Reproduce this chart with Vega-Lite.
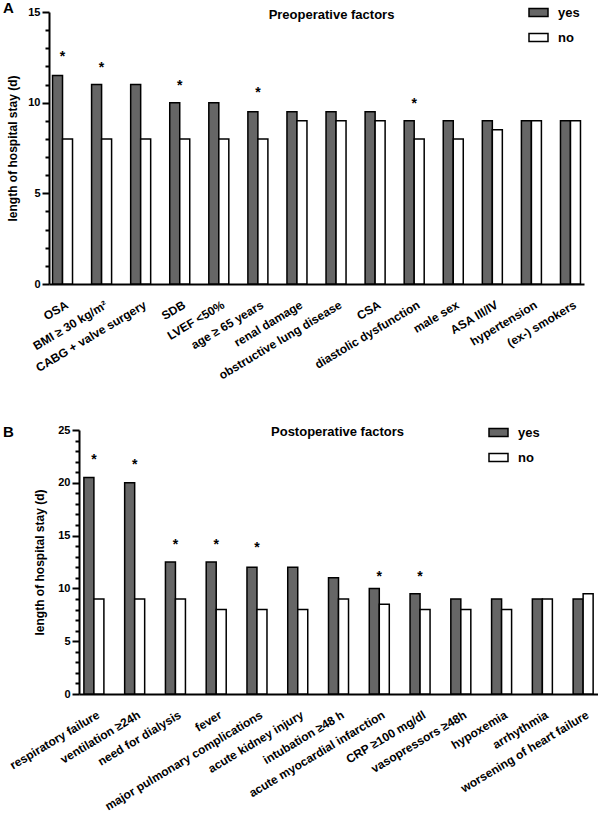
{
  "$schema": "https://vega.github.io/schema/vega-lite/v6.json",
  "padding": {"left": 3, "top": 1, "right": 0, "bottom": 0},
  "config": {
    "font": "Liberation Sans",
    "view": {"stroke": null},
    "axis": {
      "domainColor": "black", "domainWidth": 2, "tickColor": "black", "tickWidth": 2,
      "labelColor": "black", "labelFontSize": 11, "labelFontWeight": "bold", "labelFont": "Liberation Sans",
      "titleColor": "black", "titleFontSize": 12, "titleFontWeight": "bold", "titleFont": "Liberation Sans",
      "grid": false
    },
    "legend": {
      "orient": "none", "title": null,
      "symbolType": "M-1,-0.42H1V0.42H-1Z", "symbolSize": 361,
      "symbolStrokeColor": "black", "symbolStrokeWidth": 1.5, "symbolOpacity": 1,
      "labelFontSize": 13, "labelFontWeight": "bold", "labelColor": "black", "labelFont": "Liberation Sans",
      "labelOffset": 9, "rowPadding": 7
    }
  },
  "spacing": 41,
  "resolve": {"scale": {"color": "independent"}, "legend": {"color": "independent"}},
  "vconcat": [
    {
      "width": 535, "height": 272,
      "title": {"text": "A", "anchor": "start", "frame": "group", "fontSize": 15, "fontWeight": "bold", "color": "black", "offset": -14, "dx": -46},
      "resolve": {"axis": {"x": "independent"}},
      "layer": [
        {
          "data": {"values": [
            {"factor": "OSA", "group": "yes", "days": 11.5}, {"factor": "OSA", "group": "no", "days": 8},
            {"factor": "BMI ≥ 30 kg/m²", "group": "yes", "days": 11}, {"factor": "BMI ≥ 30 kg/m²", "group": "no", "days": 8},
            {"factor": "CABG + valve surgery", "group": "yes", "days": 11}, {"factor": "CABG + valve surgery", "group": "no", "days": 8},
            {"factor": "SDB", "group": "yes", "days": 10}, {"factor": "SDB", "group": "no", "days": 8},
            {"factor": "LVEF <50%", "group": "yes", "days": 10}, {"factor": "LVEF <50%", "group": "no", "days": 8},
            {"factor": "age ≥ 65 years", "group": "yes", "days": 9.5}, {"factor": "age ≥ 65 years", "group": "no", "days": 8},
            {"factor": "renal damage", "group": "yes", "days": 9.5}, {"factor": "renal damage", "group": "no", "days": 9},
            {"factor": "obstructive lung disease", "group": "yes", "days": 9.5}, {"factor": "obstructive lung disease", "group": "no", "days": 9},
            {"factor": "CSA", "group": "yes", "days": 9.5}, {"factor": "CSA", "group": "no", "days": 9},
            {"factor": "diastolic dysfunction", "group": "yes", "days": 9}, {"factor": "diastolic dysfunction", "group": "no", "days": 8},
            {"factor": "male sex", "group": "yes", "days": 9}, {"factor": "male sex", "group": "no", "days": 8},
            {"factor": "ASA III/IV", "group": "yes", "days": 9}, {"factor": "ASA III/IV", "group": "no", "days": 8.5},
            {"factor": "hypertension", "group": "yes", "days": 9}, {"factor": "hypertension", "group": "no", "days": 9},
            {"factor": "(ex-) smokers", "group": "yes", "days": 9}, {"factor": "(ex-) smokers", "group": "no", "days": 9}
          ]},
          "mark": {"type": "bar", "stroke": "black", "strokeWidth": 1.5},
          "encoding": {
            "x": {"field": "factor", "type": "nominal",
              "scale": {"domain": ["OSA", "BMI ≥ 30 kg/m²", "CABG + valve surgery", "SDB", "LVEF <50%", "age ≥ 65 years", "renal damage", "obstructive lung disease", "CSA", "diastolic dysfunction", "male sex", "ASA III/IV", "hypertension", "(ex-) smokers"], "paddingInner": 0.488, "paddingOuter": 0.09},
              "axis": {"title": null, "orient": "bottom", "ticks": false, "labelAngle": -31, "labelAlign": "right", "labelBaseline": "top", "labelPadding": 15, "labelOffset": 2, "labelLimit": 300, "labelFontSize": 12}},
            "xOffset": {"field": "group", "type": "nominal", "scale": {"domain": ["yes", "no"], "paddingInner": 0, "paddingOuter": 0}},
            "y": {"field": "days", "type": "quantitative",
              "scale": {"domain": [0, 15], "nice": false},
              "axis": {"title": "length of hospital stay (d)", "titlePadding": 8,
                "values": [0,1,2,3,4,5,6,7,8,9,10,11,12,13,14,15],
                "labelExpr": "datum.value % 5 === 0 ? datum.label : ''", "labelOverlap": false,
                "tickSize": {"condition": {"test": "datum.value % 5 === 0", "value": 7}, "value": 4},
                "labelPadding": 2}},
            "color": {"field": "group", "type": "nominal",
              "scale": {"domain": ["yes", "no"], "range": ["#666666", "#ffffff"]},
              "legend": {"legendX": 479, "legendY": -10}}
          }
        },
        {
          "data": {"values": [
            {"factor": "OSA", "star": 12.7},
            {"factor": "BMI ≥ 30 kg/m²", "star": 12.1},
            {"factor": "SDB", "star": 11.1},
            {"factor": "age ≥ 65 years", "star": 10.7},
            {"factor": "diastolic dysfunction", "star": 10.1}
          ]},
          "mark": {"type": "text", "text": "*", "fontSize": 14, "fontWeight": "bold", "color": "black", "baseline": "alphabetic", "dy": 7},
          "encoding": {
            "x": {"field": "factor", "type": "nominal",
              "scale": {"domain": ["OSA", "BMI ≥ 30 kg/m²", "CABG + valve surgery", "SDB", "LVEF <50%", "age ≥ 65 years", "renal damage", "obstructive lung disease", "CSA", "diastolic dysfunction", "male sex", "ASA III/IV", "hypertension", "(ex-) smokers"]},
              "axis": {"orient": "top", "title": "Preoperative factors", "titleFontSize": 13, "labels": false, "ticks": false, "domain": false, "titleX": 282, "titleY": 2, "titleBaseline": "middle", "titleAlign": "center", "titleAnchor": null}},
            "y": {"field": "star", "type": "quantitative",
              "axis": {"title": "length of hospital stay (d)", "titlePadding": 8,
                "values": [0,1,2,3,4,5,6,7,8,9,10,11,12,13,14,15],
                "labelExpr": "datum.value % 5 === 0 ? datum.label : ''", "labelOverlap": false,
                "tickSize": {"condition": {"test": "datum.value % 5 === 0", "value": 7}, "value": 4},
                "labelPadding": 2}}
          }
        }
      ]
    },
    {
      "hconcat": [
        {"width": 30, "height": 10, "data": {"values": []}, "mark": "point"},
        {
          "width": 519, "height": 264,
          "title": {"text": "B", "anchor": "start", "frame": "group", "fontSize": 15, "fontWeight": "bold", "color": "black", "offset": -16, "dx": -76},
          "resolve": {"axis": {"x": "independent"}},
          "layer": [
            {
              "data": {"values": [
                {"factor": "respiratory failure", "group": "yes", "days": 20.5}, {"factor": "respiratory failure", "group": "no", "days": 9},
                {"factor": "ventilation ≥24h", "group": "yes", "days": 20}, {"factor": "ventilation ≥24h", "group": "no", "days": 9},
                {"factor": "need for dialysis", "group": "yes", "days": 12.5}, {"factor": "need for dialysis", "group": "no", "days": 9},
                {"factor": "fever", "group": "yes", "days": 12.5}, {"factor": "fever", "group": "no", "days": 8},
                {"factor": "major pulmonary complications", "group": "yes", "days": 12}, {"factor": "major pulmonary complications", "group": "no", "days": 8},
                {"factor": "acute kidney injury", "group": "yes", "days": 12}, {"factor": "acute kidney injury", "group": "no", "days": 8},
                {"factor": "intubation ≥48 h", "group": "yes", "days": 11}, {"factor": "intubation ≥48 h", "group": "no", "days": 9},
                {"factor": "acute myocardial infarction", "group": "yes", "days": 10}, {"factor": "acute myocardial infarction", "group": "no", "days": 8.5},
                {"factor": "CRP ≥100 mg/dl", "group": "yes", "days": 9.5}, {"factor": "CRP ≥100 mg/dl", "group": "no", "days": 8},
                {"factor": "vasopressors ≥48h", "group": "yes", "days": 9}, {"factor": "vasopressors ≥48h", "group": "no", "days": 8},
                {"factor": "hypoxemia", "group": "yes", "days": 9}, {"factor": "hypoxemia", "group": "no", "days": 8},
                {"factor": "arrhythmia", "group": "yes", "days": 9}, {"factor": "arrhythmia", "group": "no", "days": 9},
                {"factor": "worsening of heart failure", "group": "yes", "days": 9}, {"factor": "worsening of heart failure", "group": "no", "days": 9.5}
              ]},
              "mark": {"type": "bar", "stroke": "black", "strokeWidth": 1.5},
              "encoding": {
                "x": {"field": "factor", "type": "nominal",
                  "scale": {"domain": ["respiratory failure", "ventilation ≥24h", "need for dialysis", "fever", "major pulmonary complications", "acute kidney injury", "intubation ≥48 h", "acute myocardial infarction", "CRP ≥100 mg/dl", "vasopressors ≥48h", "hypoxemia", "arrhythmia", "worsening of heart failure"], "paddingInner": 0.51, "paddingOuter": 0.12},
                  "axis": {"title": null, "orient": "bottom", "ticks": false, "labelAngle": -31, "labelAlign": "right", "labelBaseline": "top", "labelPadding": 15, "labelOffset": 2, "labelLimit": 300, "labelFontSize": 12}},
                "xOffset": {"field": "group", "type": "nominal", "scale": {"domain": ["yes", "no"], "paddingInner": 0, "paddingOuter": 0}},
                "y": {"field": "days", "type": "quantitative",
                  "scale": {"domain": [0, 25], "nice": false},
                  "axis": {"title": "length of hospital stay (d)", "titlePadding": 11,
                    "values": [0,1,2,3,4,5,6,7,8,9,10,11,12,13,14,15,16,17,18,19,20,21,22,23,24,25],
                    "labelExpr": "datum.value % 5 === 0 ? datum.label : ''", "labelOverlap": false,
                    "tickSize": {"condition": {"test": "datum.value % 5 === 0", "value": 7}, "value": 4},
                    "labelPadding": 2}},
                "color": {"field": "group", "type": "nominal",
                  "scale": {"domain": ["yes", "no"], "range": ["#666666", "#ffffff"]},
                  "legend": {"legendX": 439, "legendY": -8}}
              }
            },
            {
              "data": {"values": [
                {"factor": "respiratory failure", "star": 22.4},
                {"factor": "ventilation ≥24h", "star": 22.0},
                {"factor": "need for dialysis", "star": 14.4},
                {"factor": "fever", "star": 14.4},
                {"factor": "major pulmonary complications", "star": 14.1},
                {"factor": "acute myocardial infarction", "star": 11.4},
                {"factor": "CRP ≥100 mg/dl", "star": 11.4}
              ]},
              "mark": {"type": "text", "text": "*", "fontSize": 14, "fontWeight": "bold", "color": "black", "baseline": "alphabetic", "dy": 7},
              "encoding": {
                "x": {"field": "factor", "type": "nominal",
                  "scale": {"domain": ["respiratory failure", "ventilation ≥24h", "need for dialysis", "fever", "major pulmonary complications", "acute kidney injury", "intubation ≥48 h", "acute myocardial infarction", "CRP ≥100 mg/dl", "vasopressors ≥48h", "hypoxemia", "arrhythmia", "worsening of heart failure"]},
                  "axis": {"orient": "top", "title": "Postoperative factors", "titleFontSize": 13, "labels": false, "ticks": false, "domain": false, "titleX": 258, "titleY": 1, "titleBaseline": "middle", "titleAlign": "center", "titleAnchor": null}},
                "y": {"field": "star", "type": "quantitative",
                  "axis": {"title": "length of hospital stay (d)", "titlePadding": 11,
                    "values": [0,1,2,3,4,5,6,7,8,9,10,11,12,13,14,15,16,17,18,19,20,21,22,23,24,25],
                    "labelExpr": "datum.value % 5 === 0 ? datum.label : ''", "labelOverlap": false,
                    "tickSize": {"condition": {"test": "datum.value % 5 === 0", "value": 7}, "value": 4},
                    "labelPadding": 2}}
              }
            }
          ]
        }
      ],
      "bounds": "flush",
      "spacing": 0
    }
  ]
}
